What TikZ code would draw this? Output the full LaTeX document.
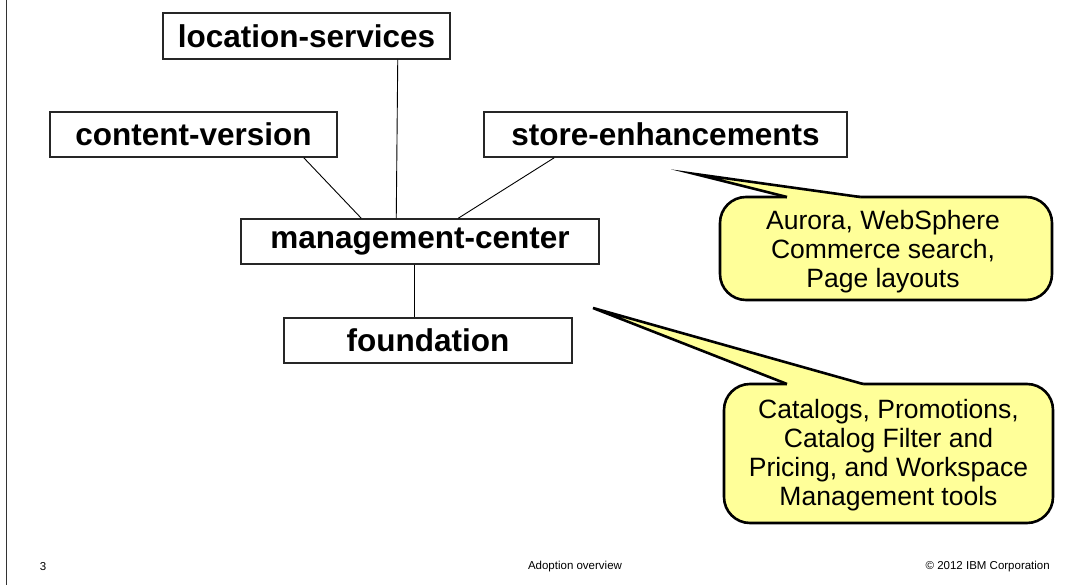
\documentclass[tikz,border=0pt]{standalone}
\usepackage{fontspec}
\setmainfont{Liberation Sans}
\usetikzlibrary{calc}
\definecolor{callfill}{HTML}{FFFF99}
\tikzset{
  modbox/.style={draw=black!85, line width=1.5pt, inner sep=0pt, font=\fontsize{31.5}{34}\selectfont\bfseries},
  link/.style={draw=black, line width=0.9pt},
  callbody/.style={draw=black, line width=2.6pt, fill=callfill, rounded corners=26pt},
  calltext/.style={align=center, font=\fontsize{26.5}{29}\selectfont, inner sep=0pt},
  foot/.style={font=\fontsize{11.5}{13}\selectfont, inner sep=0pt}
}
\begin{document}
\begin{tikzpicture}[x=1pt,y=-1pt]
\useasboundingbox (0,0) rectangle (1069,585);
\draw[line width=1pt, black!80] (6,0) -- (6,585);

% module boxes
\node[modbox, minimum width=287pt, minimum height=46pt] (loc) at (306.5,36) {location-services};
\node[modbox, minimum width=287pt, minimum height=45pt] (cv) at (193.5,134.5) {content-version};
\node[modbox, minimum width=363pt, minimum height=45pt] (se) at (665.5,134.5) {store-enhancements};
\node[modbox, minimum width=358pt, minimum height=45pt] (mc) at (420,241.5) {management-center};
\node[modbox, minimum width=288pt, minimum height=45pt] (fd) at (428,340.5) {foundation};

% connectors
\draw[link] ([xshift=-53pt]loc.south east) -- ([xshift=156pt]mc.north west);
\draw[link] ([xshift=-34pt]cv.south east) -- ([xshift=121pt]mc.north west);
\draw[link] ([xshift=71pt]se.south west) -- ([xshift=218pt]mc.north west);
\draw[link] ([xshift=174pt]mc.south west) -- ([xshift=131pt]fd.north west);

% callout 1
\path[callbody] (720,197) rectangle (1052,300);
\coordinate (t1) at (695,174);
\fill[callfill] (t1) -- (787,197) -- (787,200.5) -- (860,200.5) -- (860,197) -- cycle;
\draw[line width=2.6pt, line join=miter, miter limit=20] (787,197) -- (t1) -- (860,197);
\node[calltext] (c1) at (883,252) {Aurora, WebSphere\\Commerce search,\\Page layouts};

% callout 2
\path[callbody] (724,384) rectangle (1053,523);
\coordinate (t2) at (593,308);
\fill[callfill] (t2) -- (787,384) -- (787,387.5) -- (863,387.5) -- (863,384) -- cycle;
\draw[line width=2.6pt, line join=miter, miter limit=20] (787,384) -- (t2) -- (863,384);
\node[calltext] (c2) at (888.5,455.5) {Catalogs, Promotions,\\Catalog Filter and\\Pricing, and Workspace\\Management tools};

% footer
\node[foot] (pg) at (43,567) {3};
\node[foot] (ttl) at (575,567) {Adoption overview};
\node[foot, anchor=east] (cp) at (1050,567) {© 2012 IBM Corporation};
\end{tikzpicture}
\end{document}
